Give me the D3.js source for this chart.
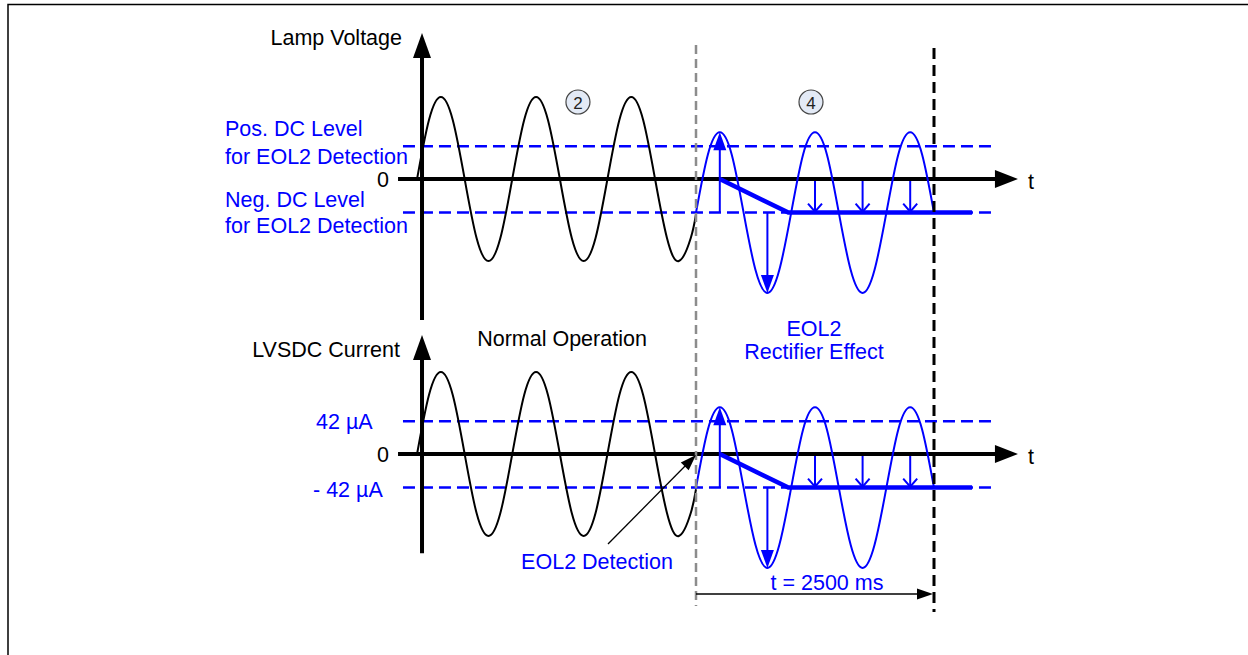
<!DOCTYPE html>
<html>
<head>
<meta charset="utf-8">
<script src="https://cdn.jsdelivr.net/npm/d3@7"></script>
<style>
  body { margin: 0; background: #fff; }
  text { font-family: "Liberation Sans", Arial, sans-serif; }
</style>
</head>
<body>
<div id="chart"></div>
<script>
// time in ms relative to the EOL2 detection, amplitude normalised to the lamp sine
const panelTitles = ["Lamp Voltage", "LVSDC Current"];
const topLevelLabels = [["Pos. DC Level", "for EOL2 Detection"], ["Neg. DC Level", "for EOL2 Detection"]];
const bottomLevelLabels = ["42 µA", "- 42 µA"];
const dcLevels = [0.40, -0.41];

const normalT = [-2930, -2805, -2680, -2555, -2430, -2305, -2180, -2055, -1930, -1805, -1680, -1555,
  -1430, -1305, -1180, -1055, -930, -805, -680, -555, -430, -305, -180, -55, 0];
const normalV = [0, 0.72, 1, 0.72, 0, -0.72, -1, -0.72, 0, 0.72, 1, 0.72,
  0, -0.72, -1, -0.72, 0, 0.72, 1, 0.72, 0, -0.72, -1, -0.72, -0.43];

const rectT = [0, 125, 250, 375, 500, 625, 750, 875, 1000, 1125, 1250, 1375, 1500, 1625, 1750, 1875,
  2000, 2125, 2250, 2375, 2500];
const rectV = [-0.41, 0.30, 0.57, 0.30, -0.41, -1.11, -1.39, -1.11, -0.41, 0.30, 0.57, 0.30, -0.41,
  -1.11, -1.39, -1.11, -0.41, 0.30, 0.57, 0.30, -0.41];

const dcShiftT = [250, 970, 2900];
const dcShiftV = [0, -0.41, -0.41];

const bigArrowT = [250, 750];
const bigArrowTo = [0.57, -1.39];
const smallArrowT = [1250, 1750, 2250];

const detectT = 0;
const timeoutT = 2500;
const timeoutLabel = "t = 2500 ms";

const width = 1248, height = 655;
const blue = "#0000ff";

const svg = d3.select("#chart").append("svg")
  .attr("width", width)
  .attr("height", height);

// frame (top and left only)
svg.append("path")
  .attr("d", "M8,655 L8,4.5 L1248,4.5")
  .attr("fill", "none").attr("stroke", "#000").attr("stroke-width", 1.5);

const x = d3.scaleLinear().domain([0, 2500]).range([696, 934]);

const panels = [
  { y: d3.scaleLinear().domain([-1, 1]).range([261, 97]), axisTop: 1.78, axisBottom: -1.72 },
  { y: d3.scaleLinear().domain([-1, 1]).range([536, 372]), axisTop: 1.45, axisBottom: -1.21 }
];

function arrowHead(g, tipX, tipY, angle, len, half, color) {
  const c = Math.cos(angle), s = Math.sin(angle);
  const bx = tipX - c * len, by = tipY - s * len;
  g.append("path")
    .attr("d", `M${tipX},${tipY} L${bx - s * half},${by + c * half} L${bx + s * half},${by - c * half} Z`)
    .attr("fill", color);
}

function openHead(g, tipX, tipY, len, half, color) {
  g.append("path")
    .attr("d", `M${tipX - half},${tipY - len} L${tipX},${tipY} L${tipX + half},${tipY - len}`)
    .attr("fill", "none").attr("stroke", color).attr("stroke-width", 2);
}

const line = d3.line().curve(d3.curveNatural);

panels.forEach((p, i) => {
  const g = svg.append("g");
  const y = p.y;

  // DC level dashed lines
  dcLevels.forEach(v => {
    g.append("line")
      .attr("x1", x(-3078)).attr("x2", x(3141))
      .attr("y1", y(v)).attr("y2", y(v))
      .attr("stroke", blue).attr("stroke-width", 2.5)
      .attr("stroke-dasharray", "12,6");
  });

  // axes
  g.append("line")
    .attr("x1", x(-3130)).attr("x2", x(3382) - 20)
    .attr("y1", y(0)).attr("y2", y(0))
    .attr("stroke", "#000").attr("stroke-width", 4);
  arrowHead(g, x(3382), y(0), 0, 23, 9, "#000");

  g.append("line")
    .attr("x1", x(-2878)).attr("x2", x(-2878))
    .attr("y1", y(p.axisBottom)).attr("y2", y(p.axisTop) + 20)
    .attr("stroke", "#000").attr("stroke-width", 4);
  arrowHead(g, x(-2878), y(p.axisTop), -Math.PI / 2, 25, 9, "#000");

  // normal operation waveform
  g.append("path")
    .attr("d", line(normalT.map((t, k) => [x(t), y(normalV[k])])))
    .attr("fill", "none").attr("stroke", "#000").attr("stroke-width", 2);

  // rectified waveform
  g.append("path")
    .attr("d", line(rectT.map((t, k) => [x(t), y(rectV[k])])))
    .attr("fill", "none").attr("stroke", blue).attr("stroke-width", 2);

  // DC shift line
  g.append("path")
    .attr("d", d3.line()(dcShiftT.map((t, k) => [x(t), y(dcShiftV[k])])))
    .attr("fill", "none").attr("stroke", blue).attr("stroke-width", 4.5);

  // big arrows from the DC level to peak / trough
  bigArrowT.forEach((t, k) => {
    const up = bigArrowTo[k] > dcLevels[1];
    const tipY = y(bigArrowTo[k]);
    g.append("line")
      .attr("x1", x(t)).attr("x2", x(t))
      .attr("y1", y(dcLevels[1])).attr("y2", up ? tipY + 14 : tipY - 14)
      .attr("stroke", blue).attr("stroke-width", 2);
    arrowHead(g, x(t), tipY, up ? -Math.PI / 2 : Math.PI / 2, 18, 6.5, blue);
  });

  // small arrows zero -> DC level
  smallArrowT.forEach(t => {
    g.append("line")
      .attr("x1", x(t)).attr("x2", x(t))
      .attr("y1", y(0) + 2).attr("y2", y(dcLevels[1]) - 1)
      .attr("stroke", blue).attr("stroke-width", 2);
    openHead(g, x(t), y(dcLevels[1]) - 1, 8, 7, blue);
  });

  // labels
  g.append("text")
    .attr("x", 383).attr("y", y(0) + 1)
    .attr("text-anchor", "middle").attr("dominant-baseline", "central")
    .style("font-size", "21.5px").text("0");
  g.append("text")
    .attr("x", 1031).attr("y", y(0) + 3)
    .attr("text-anchor", "middle").attr("dominant-baseline", "central")
    .style("font-size", "21.5px").text("t");
});

// panel titles
svg.append("text").attr("x", 402).attr("y", 38)
  .attr("text-anchor", "end").attr("dominant-baseline", "central")
  .style("font-size", "21.5px").text(panelTitles[0]);
svg.append("text").attr("x", 400).attr("y", 350)
  .attr("text-anchor", "end").attr("dominant-baseline", "central")
  .style("font-size", "21.5px").text(panelTitles[1]);

// level labels top
const topLabelY = [[129, 157], [200, 226]];
topLevelLabels.forEach((lines, i) => {
  lines.forEach((s, j) => {
    svg.append("text").attr("x", 225).attr("y", topLabelY[i][j])
      .attr("dominant-baseline", "central")
      .style("font-size", "21.5px").attr("fill", blue).text(s);
  });
});

// level labels bottom
svg.append("text").attr("x", 316).attr("y", panels[1].y(dcLevels[0]) + 1)
  .attr("dominant-baseline", "central")
  .style("font-size", "21.5px").attr("fill", blue).text(bottomLevelLabels[0]);
svg.append("text").attr("x", 313).attr("y", panels[1].y(dcLevels[1]) + 2)
  .attr("dominant-baseline", "central")
  .style("font-size", "21.5px").attr("fill", blue).text(bottomLevelLabels[1]);

// phase markers
svg.append("line")
  .attr("x1", x(detectT)).attr("x2", x(detectT))
  .attr("y1", 45).attr("y2", 606)
  .attr("stroke", "#8c8c8c").attr("stroke-width", 2.5)
  .attr("stroke-dasharray", "9,5");
svg.append("line")
  .attr("x1", x(timeoutT)).attr("x2", x(timeoutT))
  .attr("y1", 48).attr("y2", 612)
  .attr("stroke", "#000").attr("stroke-width", 3)
  .attr("stroke-dasharray", "11,6");

// circled phase numbers
[["2", -1240], ["4", 1208]].forEach(d => {
  const cx = x(d[1]), cy = 102;
  svg.append("circle").attr("cx", cx).attr("cy", cy).attr("r", 12)
    .attr("fill", "#e3eaf6").attr("stroke", "#444").attr("stroke-width", 1.2);
  svg.append("text").attr("x", cx).attr("y", cy + 1)
    .attr("text-anchor", "middle").attr("dominant-baseline", "central")
    .style("font-size", "17px").attr("fill", "#222").text(d[0]);
});

// phase captions
svg.append("text").attr("x", 562).attr("y", 339)
  .attr("text-anchor", "middle").attr("dominant-baseline", "central")
  .style("font-size", "21.5px").text("Normal Operation");
svg.append("text").attr("x", 814).attr("y", 329)
  .attr("text-anchor", "middle").attr("dominant-baseline", "central")
  .style("font-size", "21.5px").attr("fill", blue).text("EOL2");
svg.append("text").attr("x", 814).attr("y", 352)
  .attr("text-anchor", "middle").attr("dominant-baseline", "central")
  .style("font-size", "21.5px").attr("fill", blue).text("Rectifier Effect");

// EOL2 detection pointer
const yb = panels[1].y;
const tipX = x(detectT), tipY = yb(0) + 1;
const tailX = 608, tailY = 544;
const ang = Math.atan2(tipY - tailY, tipX - tailX);
svg.append("line")
  .attr("x1", tailX).attr("y1", tailY)
  .attr("x2", tipX - Math.cos(ang) * 12).attr("y2", tipY - Math.sin(ang) * 12)
  .attr("stroke", "#000").attr("stroke-width", 1.3);
arrowHead(svg, tipX, tipY, ang, 16, 5.5, "#000");
svg.append("text").attr("x", 597).attr("y", 562)
  .attr("text-anchor", "middle").attr("dominant-baseline", "central")
  .style("font-size", "21.5px").attr("fill", blue).text("EOL2 Detection");

// timeout dimension
svg.append("line")
  .attr("x1", x(detectT)).attr("x2", x(timeoutT) - 12)
  .attr("y1", 594).attr("y2", 594)
  .attr("stroke", "#000").attr("stroke-width", 1.5);
arrowHead(svg, x(timeoutT) - 1, 594, 0, 16, 5.5, "#000");
svg.append("text").attr("x", 827).attr("y", 583)
  .attr("text-anchor", "middle").attr("dominant-baseline", "central")
  .style("font-size", "21.5px").attr("fill", blue).text(timeoutLabel);
</script>
</body>
</html>
